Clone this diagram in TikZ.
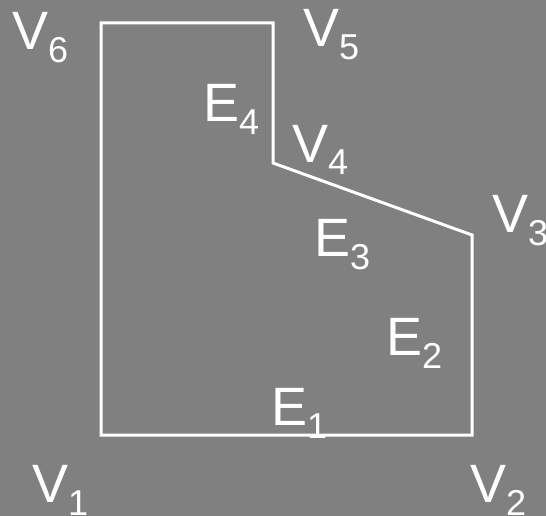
\documentclass[tikz,border=0pt]{standalone}
\usepackage{fontspec}
\setmainfont{Liberation Sans}
\newcommand{\lblsub}[2]{#1\raisebox{-13pt}{\fontsize{36}{36}\selectfont #2}}
\begin{document}
\begin{tikzpicture}[x=1pt,y=-1pt,
  edge/.style={draw=white,line width=3pt,line join=miter},
  lbl/.style={text=white,anchor=base west,inner sep=0pt,font=\fontsize{54}{60}\selectfont}]
\fill[gray] (0,0) rectangle (546,516);
\useasboundingbox (0,0) rectangle (546,516);
\coordinate (v1) at (101,435);
\coordinate (v2) at (472,435);
\coordinate (v3) at (472,235);
\coordinate (v4) at (273,163);
\coordinate (v5) at (273,23);
\coordinate (v6) at (101,23);
\draw[edge] (v1) -- (v2) -- (v3) -- (v4) -- (v5) -- (v6) -- cycle;
\node[lbl] (l6) at (12,50) {\lblsub{V}{6}};
\node[lbl] (l5) at (303,47) {\lblsub{V}{5}};
\node[lbl] (l4) at (292,162) {\lblsub{V}{4}};
\node[lbl] (l3) at (492,232) {\lblsub{V}{3}};
\node[lbl] (l1) at (32,502) {\lblsub{V}{1}};
\node[lbl] (l2) at (470,502) {\lblsub{V}{2}};
\node[lbl] (e4) at (203,122) {\lblsub{E}{4}};
\node[lbl] (e3) at (314,256) {\lblsub{E}{3}};
\node[lbl] (e2) at (386,355) {\lblsub{E}{2}};
\node[lbl] (e1) at (271,425) {\lblsub{E}{1}};
\end{tikzpicture}
\end{document}
